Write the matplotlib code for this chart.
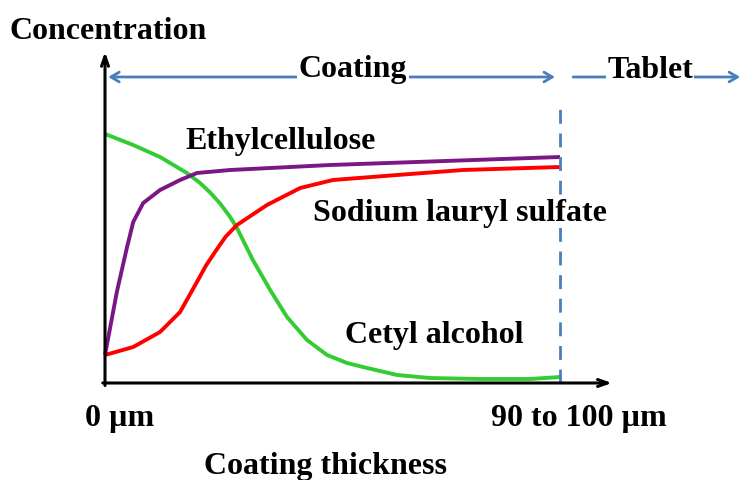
import numpy as np
import matplotlib.pyplot as plt

plt.rcParams['font.family'] = ['Liberation Serif', 'DejaVu Serif']
plt.rcParams['font.weight'] = 'bold'

# coating depth (0 = outer surface, 1 = coating/tablet interface) vs relative concentration
green_x = [0, 0.062, 0.121, 0.180, 0.209, 0.231, 0.253, 0.275, 0.290, 0.325, 0.363,
           0.400, 0.444, 0.488, 0.532, 0.567, 0.642, 0.714, 0.824, 0.934, 1.0]
green_y = [0.996, 0.952, 0.904, 0.84, 0.80, 0.762, 0.718, 0.664, 0.62, 0.492, 0.372,
           0.264, 0.172, 0.112, 0.08, 0.064, 0.032, 0.02, 0.016, 0.016, 0.024]

purple_x = [0, 0.026, 0.048, 0.062, 0.084, 0.121, 0.165, 0.202, 0.275, 0.495, 1.0]
purple_y = [0.112, 0.364, 0.54, 0.644, 0.72, 0.772, 0.812, 0.84, 0.852, 0.872, 0.904]

red_x = [0, 0.062, 0.121, 0.165, 0.202, 0.222, 0.244, 0.265, 0.290, 0.356, 0.429, 0.501,
         0.642, 0.787, 1.0]
red_y = [0.112, 0.144, 0.204, 0.284, 0.404, 0.47, 0.53, 0.585, 0.632, 0.712, 0.78, 0.812,
         0.832, 0.852, 0.864]

labels = ['Ethylcellulose', 'Sodium lauryl sulfate', 'Cetyl alcohol']
label_pos = [(0.387, 0.966), (0.78, 0.678), (0.723, 0.19)]

BLUE = '#4a7ebb'
FS = 23

fig = plt.figure(figsize=(7.4, 4.8), dpi=100)
ax = fig.add_axes([105 / 740, 97 / 480, 455 / 740, 250 / 480])
ax.set_xlim(0, 1)
ax.set_ylim(0, 1)
ax.axis('off')

kw = dict(lw=2.8, clip_on=False, solid_capstyle='butt', solid_joinstyle='round')
ax.plot(green_x, green_y, color='#33cc33', **kw)
ax.plot(red_x, red_y, color='#ff0000', **kw)
ax.plot(purple_x, purple_y, color='#7b1785', **kw)

# axes drawn as arrows
ax.annotate('', xy=(0, 1.324), xytext=(0, -0.01), annotation_clip=False,
            arrowprops=dict(arrowstyle='->,head_length=0.7,head_width=0.25', color='black', lw=2.2,
                            shrinkA=0, shrinkB=0))
ax.annotate('', xy=(1.114, 0), xytext=(-0.005, 0), annotation_clip=False,
            arrowprops=dict(arrowstyle='->,head_length=0.7,head_width=0.25', color='black', lw=2.2,
                            shrinkA=0, shrinkB=0))

# coating / tablet boundary
ax.plot([1, 1], [0, 1.112], color=BLUE, lw=2, ls=(0, (5, 3.5)), clip_on=False)

# region arrows
ax.annotate('', xy=(0.007, 1.224), xytext=(0.989, 1.224), annotation_clip=False,
            arrowprops=dict(arrowstyle='<->,head_length=0.6,head_width=0.35', color=BLUE, lw=2,
                            shrinkA=0, shrinkB=0))
ax.annotate('', xy=(1.396, 1.224), xytext=(1.029, 1.224), annotation_clip=False,
            arrowprops=dict(arrowstyle='->,head_length=0.6,head_width=0.35', color=BLUE, lw=2,
                            shrinkA=0, shrinkB=0))
ax.text(0.545, 1.254, 'Coating', ha='center', va='center', fontsize=FS,
        bbox=dict(facecolor='white', edgecolor='none', pad=1))
ax.text(1.198, 1.25, 'Tablet', ha='center', va='center', fontsize=FS,
        bbox=dict(facecolor='white', edgecolor='none', pad=1))

for lab, (lx, ly) in zip(labels, label_pos):
    ax.text(lx, ly, lab, ha='center', va='center', fontsize=FS)

ax.text(-0.209, 1.406, 'Concentration', ha='left', va='center', fontsize=FS)
ax.text(0.031, -0.142, '0 µm', ha='center', va='center', fontsize=FS)
ax.text(1.042, -0.142, '90 to 100 µm', ha='center', va='center', fontsize=FS)
ax.text(0.484, -0.334, 'Coating thickness', ha='center', va='center', fontsize=FS)

fig.savefig('out.png', dpi=100)
